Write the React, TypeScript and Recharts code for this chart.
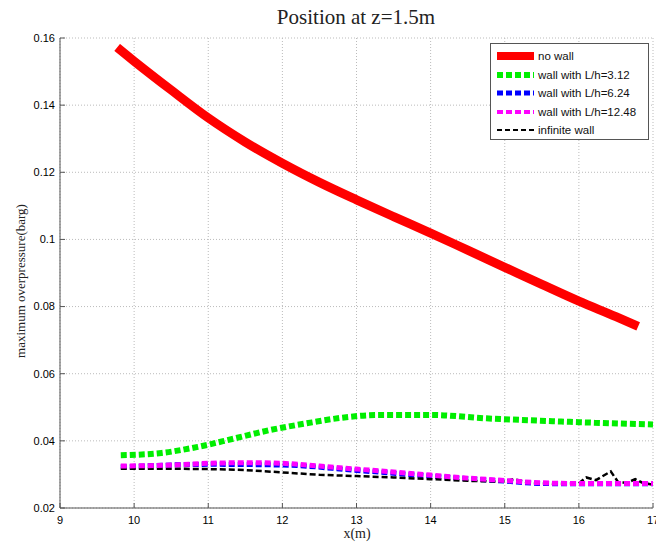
import React from "react";
import {
  LineChart,
  Line,
  XAxis,
  YAxis,
  CartesianGrid,
} from "recharts";

const xTicks = [9, 10, 11, 12, 13, 14, 15, 16, 17];
const yTicks = [0.02, 0.04, 0.06, 0.08, 0.1, 0.12, 0.14, 0.16];

const noWall = [
  { x: 9.77, y: 0.1572 },
  { x: 10, y: 0.1531 },
  { x: 10.5, y: 0.1445 },
  { x: 11, y: 0.1362 },
  { x: 11.5, y: 0.129 },
  { x: 12, y: 0.1227 },
  { x: 12.5, y: 0.117 },
  { x: 13, y: 0.1118 },
  { x: 13.5, y: 0.1068 },
  { x: 14, y: 0.1019 },
  { x: 14.5, y: 0.0968 },
  { x: 15, y: 0.0917 },
  { x: 15.5, y: 0.0866 },
  { x: 16, y: 0.0816 },
  { x: 16.5, y: 0.077 },
  { x: 16.8, y: 0.0741 },
];

const wall312 = [
  { x: 9.82, y: 0.0357 },
  { x: 10.37, y: 0.0364 },
  { x: 10.86, y: 0.0382 },
  { x: 11.35, y: 0.0407 },
  { x: 11.83, y: 0.0432 },
  { x: 12.32, y: 0.0452 },
  { x: 12.81, y: 0.0469 },
  { x: 13.29, y: 0.0477 },
  { x: 14.02, y: 0.0477 },
  { x: 14.75, y: 0.0467 },
  { x: 15.48, y: 0.046 },
  { x: 16.21, y: 0.0454 },
  { x: 17, y: 0.0449 },
];

const wall624 = [
  { x: 9.82, y: 0.0322 },
  { x: 11, y: 0.033 },
  { x: 12, y: 0.0328 },
  { x: 13, y: 0.0312 },
  { x: 14, y: 0.0295 },
  { x: 15, y: 0.028 },
  { x: 15.5, y: 0.0273 },
  { x: 16, y: 0.0272 },
  { x: 17, y: 0.0272 },
];

const wall1248 = [
  { x: 9.82, y: 0.0325 },
  { x: 10.5, y: 0.0328 },
  { x: 11, y: 0.0333 },
  { x: 11.5, y: 0.0335 },
  { x: 12, y: 0.0333 },
  { x: 12.5, y: 0.0325 },
  { x: 13, y: 0.0316 },
  { x: 13.5, y: 0.0307 },
  { x: 14, y: 0.0298 },
  { x: 14.5, y: 0.0289 },
  { x: 15, y: 0.0282 },
  { x: 15.5, y: 0.0275 },
  { x: 16, y: 0.0273 },
  { x: 16.5, y: 0.0273 },
  { x: 17, y: 0.0273 },
];

const infiniteWall = [
  { x: 9.82, y: 0.0317 },
  { x: 10.5, y: 0.0317 },
  { x: 11, y: 0.0316 },
  { x: 11.5, y: 0.0313 },
  { x: 12, y: 0.0306 },
  { x: 12.5, y: 0.0299 },
  { x: 13, y: 0.0295 },
  { x: 13.5, y: 0.0291 },
  { x: 14, y: 0.0286 },
  { x: 14.5, y: 0.0281 },
  { x: 14.85, y: 0.0279 },
  { x: 15.0, y: 0.028 },
  { x: 15.12, y: 0.0286 },
  { x: 15.22, y: 0.0281 },
  { x: 15.35, y: 0.0275 },
  { x: 15.7, y: 0.0272 },
  { x: 16.0, y: 0.0274 },
  { x: 16.1, y: 0.0291 },
  { x: 16.23, y: 0.0283 },
  { x: 16.43, y: 0.0309 },
  { x: 16.53, y: 0.0277 },
  { x: 16.65, y: 0.0275 },
  { x: 16.76, y: 0.0286 },
  { x: 16.85, y: 0.0276 },
  { x: 17, y: 0.0269 },
];

const legendItems = [
  { name: "no wall", color: "#ff0000", width: 8, dash: "" },
  { name: "wall with L/h=3.12", color: "#00ee00", width: 6, dash: "6 3" },
  { name: "wall with L/h=6.24", color: "#0000ff", width: 5, dash: "6 3" },
  { name: "wall with L/h=12.48", color: "#ff00ff", width: 4, dash: "6 3" },
  { name: "infinite wall", color: "#000000", width: 2, dash: "5 3" },
];

const tickStyle = { fill: "#000", fontSize: 11, fontFamily: "Liberation Sans, Arial, sans-serif" };
const serif = "Liberation Serif, Times New Roman, serif";

export default function App() {
  return (
    <div style={{ position: "absolute", left: 0, top: 0, width: 656, height: 549, background: "#fff" }}>
      <LineChart width={656} height={549} margin={{ top: 38, right: 3, bottom: 0, left: 0 }}>
        <CartesianGrid stroke="#bbb" strokeDasharray="1 2" />
        <XAxis
          type="number"
          dataKey="x"
          domain={[9, 17]}
          ticks={xTicks}
          interval={0}
          height={41}
          tick={tickStyle}
          tickLine={{ stroke: "#555" }}
          tickSize={-5}
          tickMargin={13}
          axisLine={{ stroke: "#555" }}
          allowDataOverflow
        />
        <XAxis
          xAxisId="top"
          type="number"
          orientation="top"
          domain={[9, 17]}
          ticks={xTicks}
          interval={0}
          height={0}
          tick={false}
          tickLine={{ stroke: "#555" }}
          tickSize={-5}
          axisLine={{ stroke: "#555" }}
        />
        <YAxis
          type="number"
          domain={[0.02, 0.16]}
          ticks={yTicks}
          interval={0}
          width={60}
          tick={tickStyle}
          tickLine={{ stroke: "#555" }}
          tickSize={-5}
          tickMargin={10}
          axisLine={{ stroke: "#555" }}
          allowDataOverflow
        />
        <YAxis
          yAxisId="right"
          orientation="right"
          domain={[0.02, 0.16]}
          ticks={yTicks}
          interval={0}
          width={0}
          tick={false}
          tickLine={{ stroke: "#555" }}
          tickSize={-5}
          axisLine={{ stroke: "#555" }}
        />
        <Line data={noWall} dataKey="y" stroke="#ff0000" strokeWidth={9} dot={false} type="monotone" isAnimationActive={false} />
        <Line data={wall312} dataKey="y" stroke="#00ee00" strokeWidth={6} strokeDasharray="6 3" dot={false} type="monotone" isAnimationActive={false} />
        <Line data={wall624} dataKey="y" stroke="#0000ff" strokeWidth={5} strokeDasharray="6 3" dot={false} type="monotone" isAnimationActive={false} />
        <Line data={infiniteWall} dataKey="y" stroke="#000" strokeWidth={2.5} strokeDasharray="6 3" dot={false} type="linear" isAnimationActive={false} />
        <Line data={wall1248} dataKey="y" stroke="#ff00ff" strokeWidth={5} strokeDasharray="6 3" dot={false} type="monotone" isAnimationActive={false} />
      </LineChart>
      <div style={{ position: "absolute", left: 206, top: 5, width: 300, textAlign: "center", fontFamily: serif, fontSize: 21, color: "#222" }}>
        Position at z=1.5m
      </div>
      <div style={{ position: "absolute", left: 257, top: 526, width: 200, textAlign: "center", fontFamily: serif, fontSize: 14, color: "#222" }}>
        x(m)
      </div>
      <div
        style={{
          position: "absolute",
          left: 21 - 120,
          top: 282 - 9,
          width: 240,
          textAlign: "center",
          fontFamily: serif,
          fontSize: 13,
          color: "#222",
          transform: "rotate(-90deg)",
          whiteSpace: "nowrap",
        }}
      >
        maximum overpressure(barg)
      </div>
      <div
        style={{
          position: "absolute",
          left: 490,
          top: 43,
          width: 159,
          height: 97,
          border: "1px solid #555",
          background: "#fff",
          boxSizing: "border-box",
          paddingTop: 3,
        }}
      >
        {legendItems.map((it) => (
          <div key={it.name} style={{ display: "flex", alignItems: "center", height: 18.5 }}>
            <svg width={47} height={10} style={{ flex: "none" }}>
              <line x1={6} y1={5} x2={43} y2={5} stroke={it.color} strokeWidth={it.width} strokeDasharray={it.dash || undefined} />
            </svg>
            <span style={{ fontFamily: "Liberation Sans, Arial, sans-serif", fontSize: 11.5, color: "#111", whiteSpace: "nowrap" }}>
              {it.name}
            </span>
          </div>
        ))}
      </div>
    </div>
  );
}
